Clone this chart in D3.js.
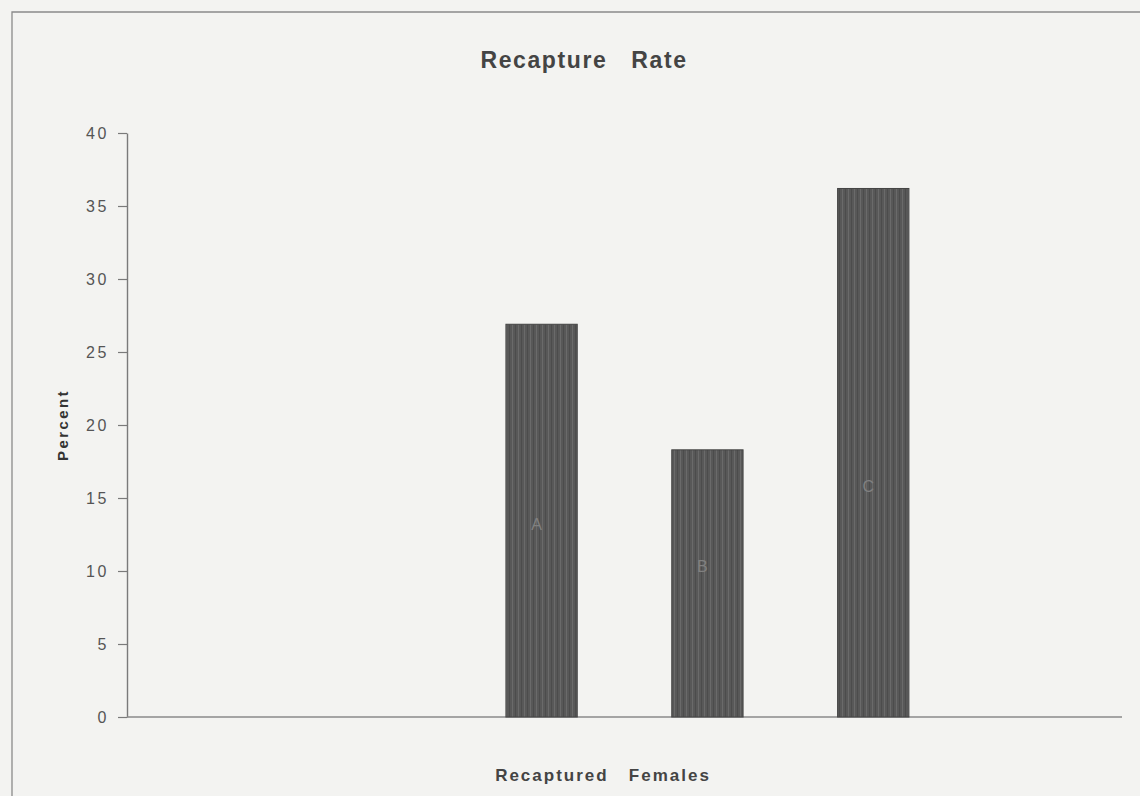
<!DOCTYPE html>
<html>
<head>
<meta charset="utf-8">
<script src="https://cdn.jsdelivr.net/npm/d3@7/dist/d3.min.js"></script>
<style>
  html, body { margin: 0; padding: 0; background: #f3f3f1; }
  svg { display: block; }
  text { font-family: "Liberation Sans", Arial, Helvetica, sans-serif; }
</style>
</head>
<body>
<svg id="chart" width="1140" height="796"></svg>
<script>
// ---- data ----
const categories = ["c1", "c2", "A", "B", "C", "c6"];
const values = [null, null, 26.9, 18.3, 36.2, null];
const barLabels = ["", "", "A", "B", "C", ""];
const labelValues = [null, null, 13.2, 10.3, 15.8, null];
const yTicks = [0, 5, 10, 15, 20, 25, 30, 35, 40];
const title = "Recapture   Rate";
const xTitle = "Recaptured   Females";
const yTitle = "Percent";

const svg = d3.select("#chart");
const W = 1140, H = 796;
const margin = { left: 127, right: 18, top: 133, bottom: 79 };
const plotW = W - margin.left - margin.right;
const plotH = H - margin.top - margin.bottom;

svg.append("rect").attr("width", W).attr("height", H).attr("fill", "#f3f3f1");

// frame (scanned page border)
svg.append("path")
  .attr("d", `M12,${H} L12,12 L${W},12`)
  .attr("fill", "none").attr("stroke", "#8a8a8a").attr("stroke-width", 1.3);

// stripe pattern for bars
const defs = svg.append("defs");
const pat = defs.append("pattern").attr("id", "stripes")
  .attr("patternUnits", "userSpaceOnUse").attr("width", 6).attr("height", 40);
pat.append("rect").attr("width", 6).attr("height", 40).attr("fill", "#585858");
pat.append("rect").attr("x", 1).attr("width", 1).attr("height", 40).attr("fill", "#6a6a6a");
pat.append("rect").attr("x", 4).attr("width", 1).attr("height", 40).attr("fill", "#4c4c4c");

const g = svg.append("g").attr("transform", `translate(${margin.left},${margin.top})`);

const x = d3.scaleBand().domain(categories).range([0, plotW]).paddingInner(0.57).paddingOuter(0.285);
const y = d3.scaleLinear().domain([0, 40]).range([plotH, 0]);

// y axis
const yAxis = g.append("g").call(
  d3.axisLeft(y).tickValues(yTicks).tickSize(9).tickPadding(11).tickSizeOuter(0)
);
yAxis.select(".domain").attr("stroke", "#7a7a7a").attr("stroke-width", 1.4);
yAxis.selectAll(".tick line").attr("stroke", "#7a7a7a").attr("stroke-width", 1.2);
yAxis.selectAll(".tick text")
  .attr("fill", "#555").style("font-size", "16px").style("letter-spacing", "2.6px")
  .attr("dx", "2px")
  .attr("dy", "0.36em");

// x axis line
g.append("line")
  .attr("x1", 0).attr("x2", plotW).attr("y1", y(0)).attr("y2", y(0))
  .attr("stroke", "#8a8a8a").attr("stroke-width", 1.4);

// bars
const data = categories.map((c, i) => ({ c, v: values[i], lab: barLabels[i], lv: labelValues[i] }))
  .filter(d => d.v !== null);

g.selectAll(".bar").data(data).enter().append("rect")
  .attr("class", "bar")
  .attr("x", d => x(d.c))
  .attr("y", d => y(d.v))
  .attr("width", x.bandwidth())
  .attr("height", d => y(0) - y(d.v))
  .attr("fill", "url(#stripes)")
  .attr("stroke", "#444").attr("stroke-width", 1);

g.selectAll(".blab").data(data).enter().append("text")
  .attr("class", "blab")
  .attr("x", d => x(d.c) + x.bandwidth() / 2 - 5)
  .attr("y", d => y(d.lv))
  .attr("dy", "0.35em")
  .attr("text-anchor", "middle")
  .attr("fill", "#808080")
  .style("font-size", "16px")
  .text(d => d.lab);

// titles
svg.append("text")
  .attr("x", 584).attr("y", 68)
  .attr("text-anchor", "middle")
  .attr("fill", "#444").style("font-size", "23px").style("font-weight", "bold")
  .style("letter-spacing", "1.6px").style("white-space", "pre")
  .text(title);

svg.append("text")
  .attr("x", 603).attr("y", 781)
  .attr("text-anchor", "middle")
  .attr("fill", "#444").style("font-size", "17px").style("font-weight", "bold")
  .style("letter-spacing", "2px").style("white-space", "pre")
  .text(xTitle);

svg.append("text")
  .attr("transform", "translate(68,425) rotate(-90)")
  .attr("text-anchor", "middle")
  .attr("fill", "#333").style("font-size", "15px").style("font-weight", "bold")
  .style("letter-spacing", "2.4px")
  .text(yTitle);
</script>
</body>
</html>
